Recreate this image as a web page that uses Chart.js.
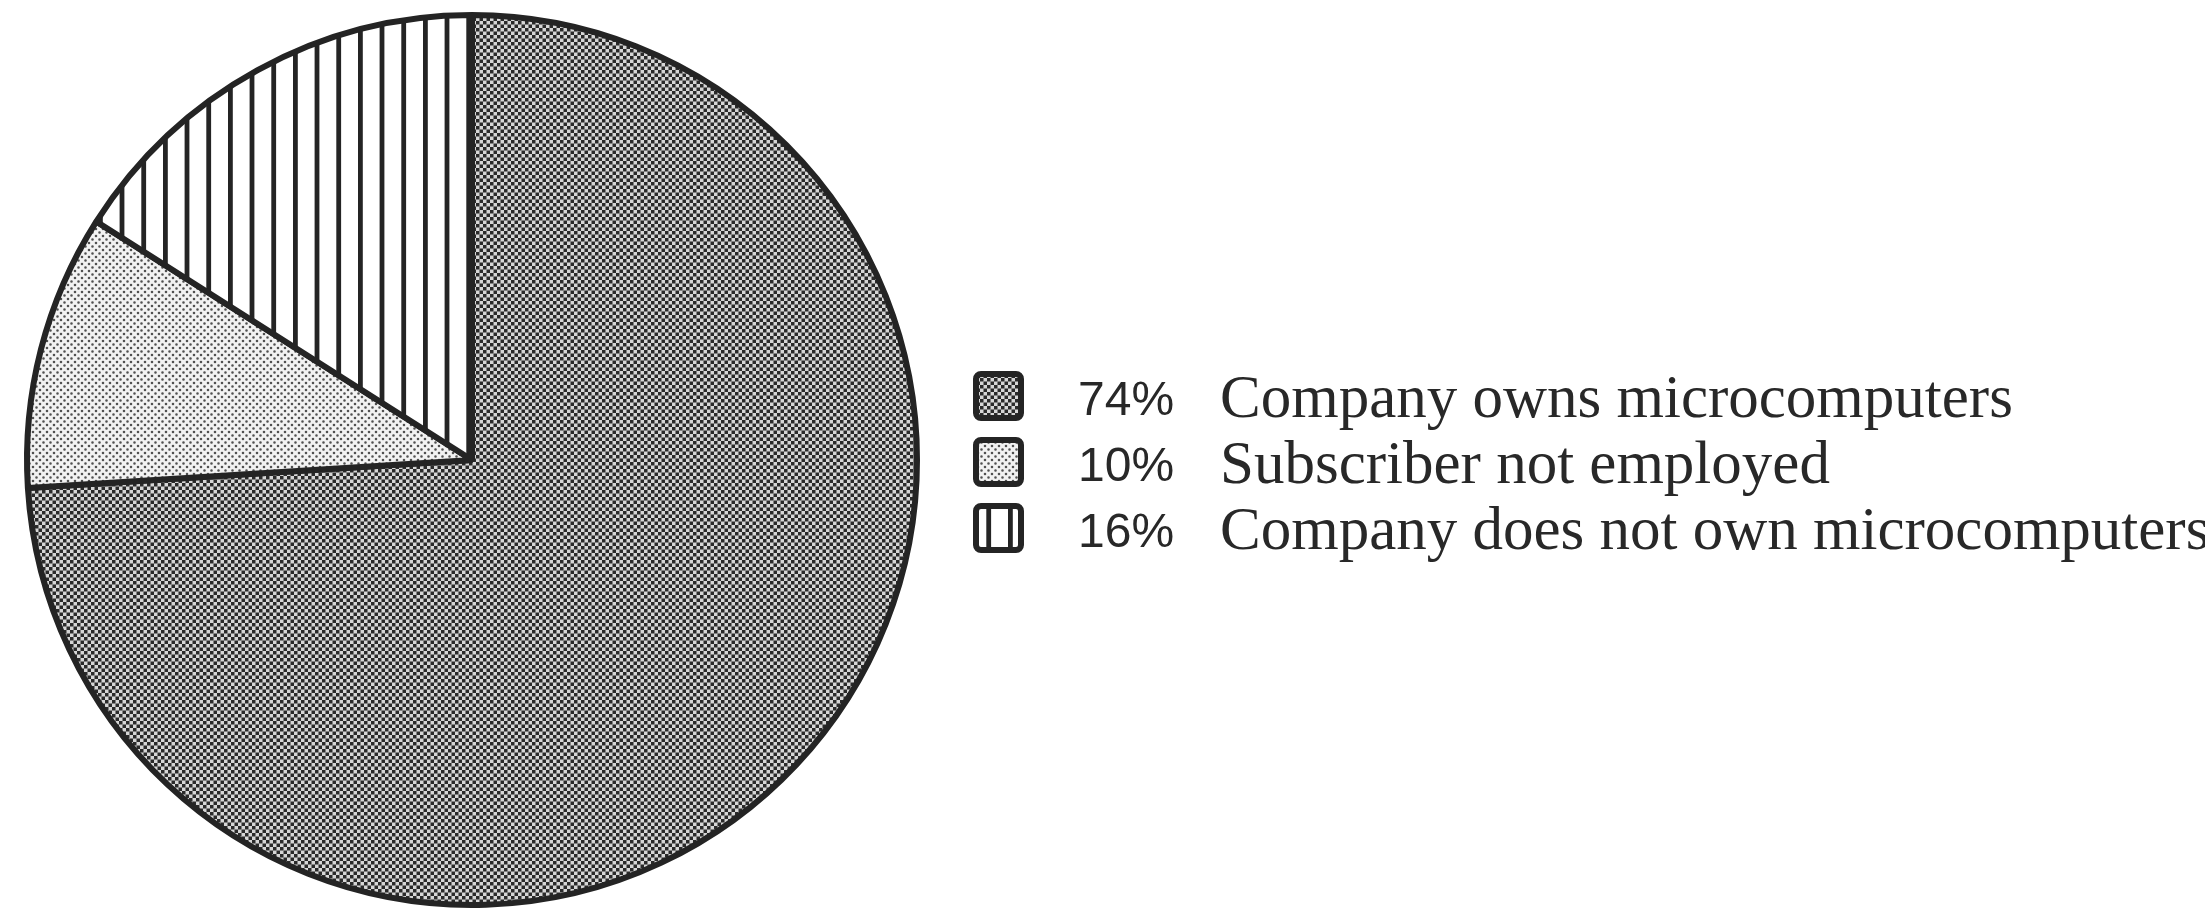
<!DOCTYPE html>
<html>
<head>
<meta charset="utf-8">
<script src="https://cdn.jsdelivr.net/npm/chart.js@4.4.1/dist/chart.umd.min.js"></script>
<style>
    html, body { margin: 0; padding: 0; background: #fff; }
    #ownershipChart { display: block; }
</style>
</head>
<body>
<canvas id="ownershipChart" width="2205" height="911"></canvas>
<script>
const categories = ['Company owns microcomputers', 'Subscriber not employed', 'Company does not own microcomputers'];
const shares = [74, 10, 16];

const INK = '#242424';

// dense checker for the big slice
function darkPattern(ctx) {
    const c = document.createElement('canvas');
    c.width = 7; c.height = 7;
    const g = c.getContext('2d');
    g.fillStyle = '#d6d6d6';
    g.fillRect(0, 0, 7, 7);
    g.fillStyle = '#2a2a2a';
    g.fillRect(0, 0, 3.5, 3.5);
    g.fillRect(3.5, 3.5, 3.5, 3.5);
    return ctx.createPattern(c, 'repeat');
}

// sparse dots
function lightPattern(ctx) {
    const c = document.createElement('canvas');
    c.width = 7; c.height = 7;
    const g = c.getContext('2d');
    g.fillStyle = '#f2f2f2';
    g.fillRect(0, 0, 7, 7);
    g.fillStyle = '#505050';
    g.beginPath();
    g.arc(1.5, 1.5, 1.3, 0, Math.PI * 2);
    g.arc(5, 5, 1.3, 0, Math.PI * 2);
    g.fill();
    return ctx.createPattern(c, 'repeat');
}

// vertical stripes, three per tile so the period can be fractional
function stripePattern(ctx) {
    const c = document.createElement('canvas');
    c.width = 65; c.height = 8;
    const g = c.getContext('2d');
    g.fillStyle = '#fff';
    g.fillRect(0, 0, 65, 8);
    g.fillStyle = INK;
    [13.7, 35.4, 57.0].forEach(x => g.fillRect(x - 2.4, 0, 4.8, 8));
    return ctx.createPattern(c, 'repeat');
}

const legendPlugin = {
    id: 'sideLegend',
    afterDraw(chart) {
        const ctx = chart.ctx;
        const fills = chart.data.datasets[0].backgroundColor;
        const values = chart.data.datasets[0].data;
        ctx.save();
        chart.data.labels.forEach((label, i) => {
            const base = 415 + i * 66;
            ctx.beginPath();
            ctx.roundRect(976, base - 41, 45, 44, 5);
            ctx.fillStyle = fills[i];
            ctx.fill();
            ctx.lineWidth = 6;
            ctx.strokeStyle = INK;
            ctx.stroke();

            ctx.fillStyle = '#282828';
            ctx.textBaseline = 'alphabetic';
            ctx.textAlign = 'left';
            ctx.font = '48px "Liberation Sans", Arial, sans-serif';
            ctx.fillText(values[i] + '%', 1078, base);
            ctx.font = '61px "Liberation Serif", "Times New Roman", serif';
            ctx.fillText(label, 1220, base + 2);
        });
        ctx.restore();
    }
};

function createChart() {
    const canvas = document.getElementById('ownershipChart');
    const ctx = canvas.getContext('2d');

    new Chart(canvas, {
        type: 'pie',
        data: {
            labels: categories,
            datasets: [{
                data: shares,
                backgroundColor: [darkPattern(ctx), lightPattern(ctx), stripePattern(ctx)],
                borderColor: INK,
                borderWidth: 6
            }]
        },
        options: {
            responsive: false,
            devicePixelRatio: 1,
            animation: false,
            events: [],
            rotation: 0,
            layout: {
                padding: { left: 24, right: 1285, top: 12, bottom: 3 }
            },
            plugins: {
                legend: { display: false },
                tooltip: { enabled: false }
            }
        },
        plugins: [legendPlugin]
    });
}

document.addEventListener('DOMContentLoaded', createChart);
</script>
</body>
</html>
